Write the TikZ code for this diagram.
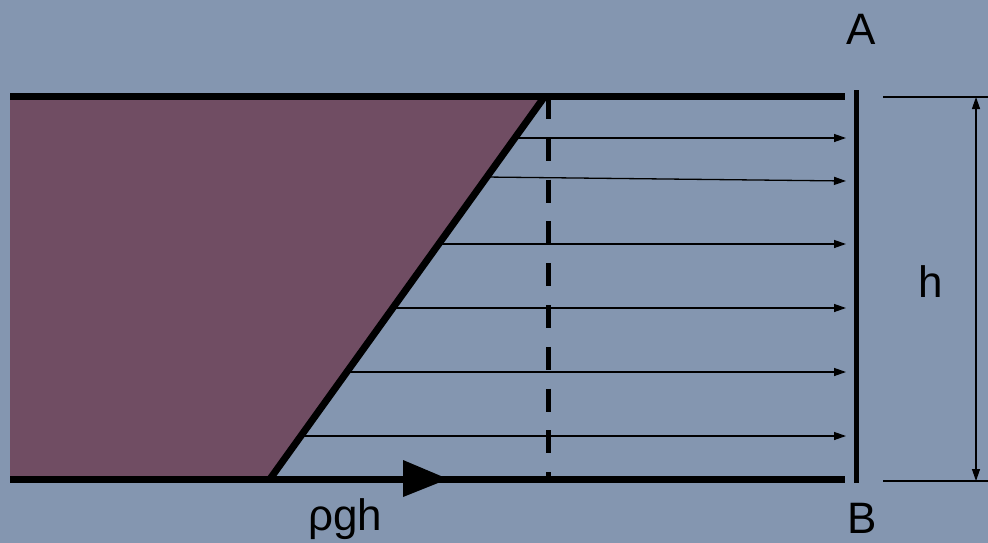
\documentclass[tikz,border=0pt]{standalone}
\usepackage{fontspec}
\setmainfont{Liberation Sans}
\usetikzlibrary{arrows.meta}
\definecolor{bgc}{RGB}{132,150,176}
\definecolor{fillc}{RGB}{112,77,99}
\tikzset{
  thickline/.style={line width=7pt, line cap=butt},
  flowarrow/.style={line width=1.3pt, -{Triangle[length=12pt,width=8pt]}},
  dimline/.style={line width=1.3pt},
  lbl/.style={font=\fontsize{44}{48}\selectfont, anchor=base, inner sep=0pt},
}
\begin{document}
\begin{tikzpicture}[x=1pt,y=-1pt]
\fill[bgc] (0,0) rectangle (988,543);
\useasboundingbox (0,0) rectangle (988,543);
% key points
\coordinate (TL) at (10,96);
\coordinate (TS) at (545,96);
\coordinate (TR) at (845,96);
\coordinate (BL) at (10,479);
\coordinate (BS) at (270,479);
\coordinate (BR) at (845,479);
% pressure region
\fill[fillc] (TL) -- (TS) -- (BS) -- (BL) -- cycle;
% thick lines
\draw[thickline] (TL) -- (TR);
\draw[thickline] (BL) -- (BR);
\draw[thickline] (TS) -- (BS);
% dashed line
\coordinate (DT) at (548,96);
\coordinate (DB) at (548,479);
\draw[line width=5pt, dash pattern=on 23pt off 18.8pt] (DT) -- (DB);
% wall AB
\coordinate (WT) at (856,90);
\coordinate (WB) at (856,483);
\draw[line width=5pt] (WT) -- (WB);
% flow arrows
\foreach \ya/\yb/\xs [count=\i] in {138/138/515, 177/181/485, 244/244/440, 308/308/394, 372/372/348, 436/436/302}{
  \coordinate (s\i) at (\xs,\ya);
  \coordinate (e\i) at (846,\yb);
  \draw[flowarrow] (s\i) -- (e\i);
}
% big arrow head
\coordinate (H1) at (403,460);
\coordinate (H2) at (403,497);
\coordinate (H3) at (448,479);
\fill (H1) -- (H3) -- (H2) -- cycle;
% dimension
\coordinate (D1) at (883,97);
\coordinate (D2) at (988,97);
\coordinate (D3) at (883,481);
\coordinate (D4) at (988,481);
\draw[dimline] (D1) -- (D2);
\draw[dimline] (D3) -- (D4);
\coordinate (V1) at (976,97);
\coordinate (V2) at (976,481);
\draw[dimline, {Triangle[length=12pt,width=8pt]}-{Triangle[length=12pt,width=8pt]}] (V1) -- (V2);
% labels
\node[lbl] (A) at (861,45) {A};
\node[lbl] (B) at (862,533) {B};
\node[lbl] (h) at (931,297) {h};
\node[lbl] (rho) at (345,530) {ρgh};
\end{tikzpicture}
\end{document}
